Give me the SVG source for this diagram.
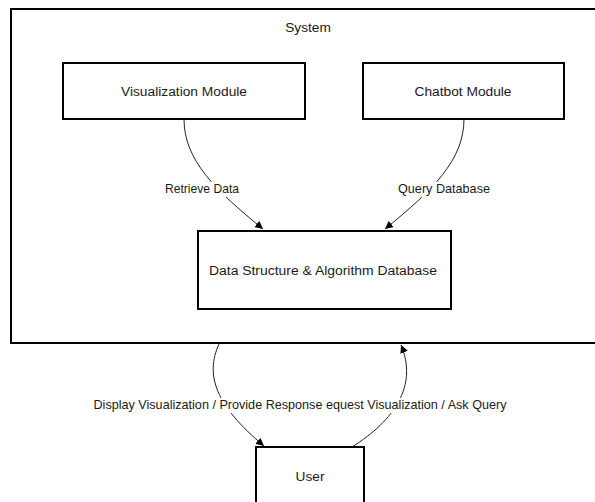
<svg xmlns="http://www.w3.org/2000/svg" width="595" height="502" viewBox="0 0 595 502">
<defs>
<marker id="arr" viewBox="0 0 10 10" refX="10" refY="5" markerWidth="8" markerHeight="8" markerUnits="userSpaceOnUse" orient="auto">
<path d="M0,0 L10,5 L0,10 z" fill="#000"/>
</marker>
<style>
.box{fill:#fff;stroke:#000;stroke-width:2}
.t{font-family:"Liberation Sans",Arial,sans-serif;font-size:12.4px;fill:#1a1a1a;text-anchor:middle;dominant-baseline:central}
.bt{font-size:13.7px}
.c{fill:none;stroke:#222;stroke-width:1;marker-end:url(#arr)}
.lbg{fill:#fff}
</style>
</defs>
<rect width="595" height="502" fill="#fff"/>
<g id="system">
<rect class="box" x="11" y="9" width="600" height="334"/>
<text class="t bt" x="308" y="27">System</text>
</g>
<g id="visualization-module">
<rect class="box" x="63" y="63" width="242" height="56"/>
<text class="t bt" x="184" y="91" textLength="126" lengthAdjust="spacingAndGlyphs">Visualization Module</text>
</g>
<g id="chatbot-module">
<rect class="box" x="363" y="63" width="201" height="56"/>
<text class="t bt" x="463" y="91" textLength="97" lengthAdjust="spacingAndGlyphs">Chatbot Module</text>
</g>
<g id="database">
<rect class="box" x="198" y="231" width="253" height="78"/>
<text class="t bt" x="323" y="270" textLength="228" lengthAdjust="spacingAndGlyphs">Data Structure &amp; Algorithm Database</text>
</g>
<g id="user">
<rect class="box" x="256" y="447" width="108" height="80"/>
<text class="t bt" x="310" y="476">User</text>
</g>
<g id="connectors">
<path class="c" d="M184,119 C184,160 215,190 263,229"/>
<path class="c" d="M464,119 C464,160 433,190 385,229"/>
<path class="c" d="M219,344 C205,375 215,405 264,446"/>
<path class="c" d="M352,447 C395,420 418,385 401,345"/>
<rect class="lbg" x="164" y="182" width="77" height="15"/>
<text class="t" x="202" y="189" textLength="74" lengthAdjust="spacingAndGlyphs">Retrieve Data</text>
<rect class="lbg" x="397" y="182" width="94" height="15"/>
<text class="t" x="444" y="189" textLength="92" lengthAdjust="spacingAndGlyphs">Query Database</text>
<rect class="lbg" x="92" y="398" width="416" height="15"/>
<text class="t" x="300" y="405" textLength="413" lengthAdjust="spacingAndGlyphs">Display Visualization / Provide Response equest Visualization / Ask Query</text>
</g>
</svg>
